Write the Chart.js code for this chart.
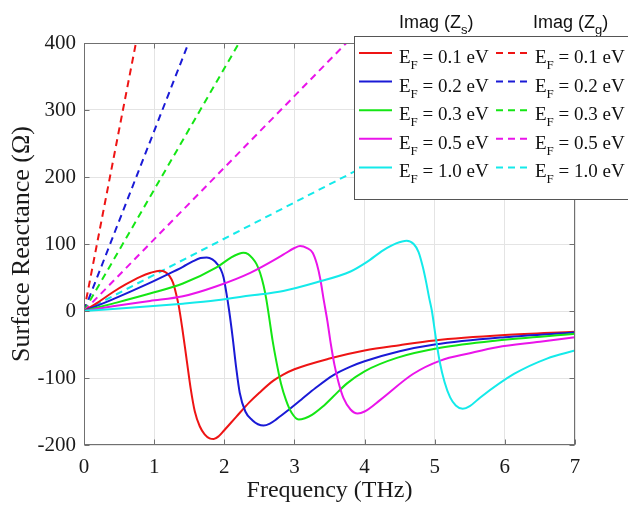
<!DOCTYPE html>
<html>
<head>
<meta charset="utf-8">
<script src="https://cdn.jsdelivr.net/npm/chart.js@4.4.1/dist/chart.umd.min.js"></script>
<style>
  html, body { margin: 0; padding: 0; background: #fff; }
  #wrap { width: 628px; height: 510px; }
</style>
</head>
<body>
<div id="wrap"><canvas id="chart" width="628" height="510"></canvas></div>
<script>
// tick values
const xTickValues = [0, 1, 2, 3, 4, 5, 6, 7];
const yTickValues = [-200, -100, 0, 100, 200, 300, 400];

// Imag(Zs) -- solid curves (THz, ohm)
const freqZs01 = [0, 0.2, 0.41, 0.6, 0.8, 0.95, 1.08, 1.16, 1.22, 1.27, 1.31, 1.35, 1.4, 1.46, 1.52, 1.58, 1.65, 1.72, 1.79, 1.85, 1.92, 2.0, 2.17, 2.36, 2.5, 2.7, 2.84, 3.0, 3.5, 4.0, 4.5, 5.0, 6.0, 7.0];
const zs01     = [0, 13, 28, 40, 51, 57, 60, 58, 52, 42, 27, 8, -25, -70, -115, -150, -172, -184, -190, -191, -187, -178, -158, -136, -122, -104, -95, -87, -71, -59, -51, -44, -36, -31];

const freqZs02 = [0, 0.4, 0.9, 1.2, 1.41, 1.55, 1.66, 1.75, 1.83, 1.9, 1.95, 1.99, 2.03, 2.07, 2.12, 2.17, 2.22, 2.3, 2.4, 2.48, 2.56, 2.65, 2.75, 2.9, 3.1, 3.3, 3.55, 3.8, 4.0, 4.5, 5.0, 6.0, 7.0];
const zs02     = [0, 17, 40, 55, 66, 74, 79, 80, 77, 70, 62, 50, 27, 0, -40, -85, -122, -150, -163, -169, -171, -168, -161, -149, -132, -115, -96, -83, -75, -60, -50, -39, -32];

const freqZs03 = [0, 0.41, 0.94, 1.41, 1.89, 2.1, 2.2, 2.27, 2.34, 2.4, 2.46, 2.51, 2.56, 2.6, 2.64, 2.69, 2.74, 2.81, 2.88, 2.96, 3.06, 3.15, 3.25, 3.4, 3.55, 3.75, 4.0, 4.46, 5.08, 5.89, 7.0];
const zs03     = [0, 11, 26, 41, 65, 80, 85, 87, 85, 79, 70, 57, 38, 17, -10, -45, -74, -109, -133, -152, -162, -160, -155, -143, -128, -108, -90, -70, -55, -44, -34];

const freqZs05 = [0, 0.41, 0.94, 1.41, 1.89, 2.37, 2.84, 3.0, 3.08, 3.18, 3.26, 3.32, 3.37, 3.42, 3.47, 3.52, 3.57, 3.63, 3.7, 3.8, 3.9, 4.0, 4.22, 4.69, 5.08, 5.5, 5.89, 6.5, 7.0];
const zs05     = [0, 7, 15, 22, 37, 57, 84, 94, 97, 94, 87, 70, 47, 15, -15, -50, -80, -107, -130, -147, -153, -150, -133, -94, -74, -63, -54, -46, -39];

const freqZs10 = [0, 0.94, 1.41, 1.89, 2.37, 2.84, 3.32, 3.8, 4.03, 4.27, 4.45, 4.6, 4.7, 4.77, 4.83, 4.88, 4.92, 4.96, 5.01, 5.07, 5.14, 5.22, 5.3, 5.4, 5.5, 5.65, 6.13, 6.6, 7.0];
const zs10     = [0, 7, 11, 16, 23, 30, 43, 59, 73, 91, 101, 105, 100, 88, 66, 42, 20, 0, -36, -75, -106, -129, -141, -146, -142, -129, -94, -71, -59];

// Imag(Zg) -- dashed straight lines
const freqZg01 = [0, 0.74];  const zg01 = [0, 400];
const freqZg02 = [0, 1.49];  const zg02 = [0, 400];
const freqZg03 = [0, 2.21];  const zg03 = [0, 400];
const freqZg05 = [0, 3.74];  const zg05 = [0, 400];
const freqZg10 = [0, 7.0];   const zg10 = [0, 378];

const efLabels = ["0.1", "0.2", "0.3", "0.5", "1.0"];
const colors = ["#ee1414", "#1a1ad6", "#14e614", "#ea14ea", "#14eaea"];

const zsFreq = [freqZs01, freqZs02, freqZs03, freqZs05, freqZs10];
const zsVals = [zs01, zs02, zs03, zs05, zs10];
const zgFreq = [freqZg01, freqZg02, freqZg03, freqZg05, freqZg10];
const zgVals = [zg01, zg02, zg03, zg05, zg10];

const pts = (xs, ys) => xs.map((x, i) => ({ x, y: ys[i] }));

const datasets = [];
colors.forEach((c, i) => {
  datasets.push({
    label: "Zg " + efLabels[i],
    data: pts(zgFreq[i], zgVals[i]),
    borderColor: c,
    borderWidth: 2,
    borderDash: [7, 5],
    order: 20 - i,
  });
});
colors.forEach((c, i) => {
  datasets.push({
    label: "Zs " + efLabels[i],
    data: pts(zsFreq[i], zsVals[i]),
    borderColor: c,
    borderWidth: 2,
    cubicInterpolationMode: "monotone",
    order: 10 - i,
  });
});

const SERIF = "'Liberation Serif', 'Times New Roman', serif";
const SANS = "'Liberation Sans', Arial, sans-serif";

// MATLAB-like box with inward ticks
const framePlugin = {
  id: "frame",
  afterDatasetsDraw(chart) {
    const { ctx, chartArea: a, scales } = chart;
    const L = Math.round(a.left) + 0.5, R = Math.round(a.right) - 0.5;
    const T = Math.round(a.top) + 0.5, B = Math.round(a.bottom) - 0.5;
    ctx.save();
    ctx.strokeStyle = "#707070";
    ctx.lineWidth = 1;
    ctx.strokeRect(L, T, R - L, B - T);
    ctx.beginPath();
    xTickValues.forEach((v) => {
      const px = Math.round(scales.x.getPixelForValue(v)) + 0.5;
      ctx.moveTo(px, B); ctx.lineTo(px, B - 5);
      ctx.moveTo(px, T); ctx.lineTo(px, T + 5);
    });
    yTickValues.forEach((v) => {
      const py = Math.round(scales.y.getPixelForValue(v)) + 0.5;
      ctx.moveTo(L, py); ctx.lineTo(L + 5, py);
      ctx.moveTo(R, py); ctx.lineTo(R - 5, py);
    });
    ctx.stroke();
    ctx.restore();
  },
};

// text with a subscript
function subText(ctx, x, y, main, sub, rest, font, subFont, subDy) {
  ctx.font = font;
  ctx.fillText(main, x, y);
  x += ctx.measureText(main).width;
  ctx.font = subFont;
  ctx.fillText(sub, x, y + subDy);
  x += ctx.measureText(sub).width;
  ctx.font = font;
  ctx.fillText(rest, x, y);
}

const legendPlugin = {
  id: "boxLegend",
  afterDraw(chart) {
    const ctx = chart.ctx;
    ctx.save();
    ctx.textBaseline = "alphabetic";
    ctx.fillStyle = "#111";
    subText(ctx, 399, 28, "Imag (Z", "s", ")", "18px " + SANS, "13px " + SANS, 6);
    subText(ctx, 533, 28, "Imag (Z", "g", ")", "18px " + SANS, "13px " + SANS, 6);

    ctx.fillStyle = "#fff";
    ctx.fillRect(354.5, 36.5, 290, 163);
    ctx.strokeStyle = "#555";
    ctx.lineWidth = 1;
    ctx.strokeRect(354.5, 36.5, 290, 163);

    colors.forEach((c, i) => {
      const yl = 53 + i * 28.6;
      ctx.lineWidth = 2;
      ctx.strokeStyle = c;
      ctx.setLineDash([]);
      ctx.beginPath();
      ctx.moveTo(359, yl); ctx.lineTo(392, yl);
      ctx.stroke();
      ctx.setLineDash([7, 5]);
      ctx.beginPath();
      ctx.moveTo(496, yl); ctx.lineTo(531, yl);
      ctx.stroke();
      ctx.setLineDash([]);
      ctx.fillStyle = "#111";
      const rest = " = " + efLabels[i] + " eV";
      subText(ctx, 399, yl + 10, "E", "F", rest, "19px " + SERIF, "13px " + SERIF, 6);
      subText(ctx, 535, yl + 10, "E", "F", rest, "19px " + SERIF, "13px " + SERIF, 6);
    });
    ctx.restore();
  },
};

new Chart(document.getElementById("chart"), {
  type: "scatter",
  data: { datasets },
  options: {
    responsive: false,
    animation: false,
    showLine: true,
    elements: { point: { radius: 0, hoverRadius: 0 } },
    layout: { padding: { top: 43, right: 53, left: 0, bottom: 0 } },
    plugins: { legend: { display: false }, tooltip: { enabled: false } },
    scales: {
      x: {
        type: "linear",
        min: 0,
        max: 7,
        afterBuildTicks: (s) => { s.ticks = xTickValues.map((v) => ({ value: v })); },
        afterFit: (s) => { s.height = 65; },
        grid: { color: "#e4e4e4", drawTicks: false },
        border: { display: false },
        ticks: { padding: 10, color: "#1a1a1a", font: { family: SERIF, size: 21 } },
        title: {
          display: true,
          text: "Frequency (THz)",
          color: "#1a1a1a",
          font: { family: SERIF, size: 24 },
          padding: { top: 0, bottom: 5 },
        },
      },
      y: {
        type: "linear",
        min: -200,
        max: 400,
        afterBuildTicks: (s) => { s.ticks = yTickValues.map((v) => ({ value: v })); },
        afterFit: (s) => { s.width = 84; },
        grid: { color: "#e4e4e4", drawTicks: false },
        border: { display: false },
        ticks: { padding: 8, color: "#1a1a1a", font: { family: SERIF, size: 21 } },
        title: {
          display: true,
          text: "Surface Reactance (Ω)",
          color: "#1a1a1a",
          font: { family: SERIF, size: 26 },
          padding: { top: 7, bottom: 0 },
        },
      },
    },
  },
  plugins: [framePlugin, legendPlugin],
});
</script>
</body>
</html>
